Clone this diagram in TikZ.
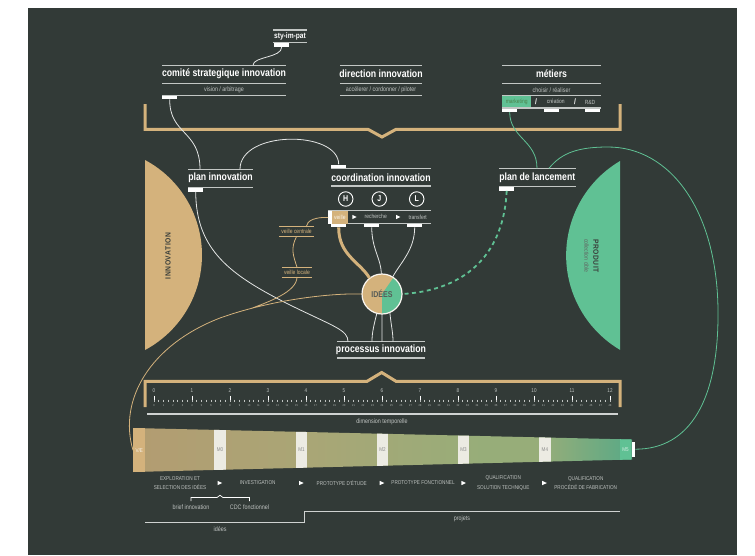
\documentclass[tikz,border=0pt]{standalone}
\usepackage{fontspec}
\setmainfont{Liberation Sans}[FakeStretch=0.83]
\newfontfamily\widefont{Liberation Sans}[FakeStretch=0.9,LetterSpace=8]
\usetikzlibrary{positioning}

\definecolor{bgdark}{HTML}{323A37}
\definecolor{innotan}{HTML}{D4B27C}
\definecolor{prodgreen}{HTML}{60C194}
\definecolor{rulegrey}{HTML}{C3C7C5}
\definecolor{linkwhite}{HTML}{E4E6E5}
\definecolor{labelgrey}{HTML}{BFC3C1}
\definecolor{inkdark}{HTML}{3A3F3B}
\definecolor{milestone}{HTML}{ECEBE3}
\definecolor{bandtan}{HTML}{B39C71}
\definecolor{bandolive}{HTML}{A9A676}
\definecolor{bandsage}{HTML}{97AD79}
\definecolor{bandteal}{HTML}{58A986}

\pgfdeclarehorizontalshading{timeband}{100bp}{color(0bp)=(bandtan); color(25bp)=(bandtan); color(43bp)=(bandolive); color(60bp)=(bandsage); color(66bp)=(bandsage); color(75bp)=(bandteal); color(100bp)=(bandteal)}

\begin{document}
\begin{tikzpicture}[x=1pt,y=-1pt,
  heading/.style={inner sep=0pt,text=white,font=\bfseries\fontsize{10.5}{12}\selectfont},
  subtext/.style={inner sep=0pt,text=labelgrey,font=\fontsize{6.5}{7}\selectfont},
  stage/.style={inner sep=0pt,text=labelgrey,align=center,font=\fontsize{5.6}{9.7}\selectfont},
  rule/.style={draw=rulegrey,line width=1.1pt},
  port/.style={fill=white,inner sep=0pt,minimum width=15pt,minimum height=3.4pt,anchor=north west},
  link/.style={draw=linkwhite,line width=0.8pt},
  greenlink/.style={draw=prodgreen,line width=0.8pt},
  tanlink/.style={draw=innotan,line width=0.8pt},
  bracket/.style={draw=innotan,line width=3pt},
  letter/.style={circle,draw=white,line width=0.9pt,minimum size=14.5pt,inner sep=0pt,text=white,font=\bfseries\fontsize{8.5}{9}\selectfont},
  tanlabel/.style={inner xsep=2pt,inner ysep=0pt,minimum height=9.5pt,text=innotan,font=\fontsize{6}{7}\selectfont},
  mbox/.style={inner sep=0pt,text=black!45,font=\fontsize{5.5}{6}\selectfont},
  tick/.style={draw=white,line width=0.8pt},
]

\fill[white] (0,0) rectangle (755,555);
\fill[bgdark] (28,8) rectangle (737,555);
\useasboundingbox (0,0) rectangle (755,555);

\fill[innotan] (145,160) arc[start angle=-61.9,end angle=61.9,radius=107.7] -- cycle;
\fill[prodgreen] (620,161) arc[start angle=239.4,end angle=120.6,radius=109.7] -- cycle;
\node[rotate=90,inner sep=0pt,text=inkdark,font=\widefont\bfseries\fontsize{7.5}{8}\selectfont] (inno) at (168,256) {INNOVATION};
\node[rotate=-90,inner sep=0pt,text=inkdark,font=\widefont\bfseries\fontsize{7.5}{8}\selectfont] (prod) at (596,256) {PRODUIT};
\node[rotate=-90,inner sep=0pt,text=inkdark!80,font=\fontsize{6.2}{7}\selectfont] (prod-sub) at (586.5,256) {collection cible};

\path[bracket]
    (145,104) -- (145,129.3) -- (368,129.3) -- (382,137) -- (396,129.3) -- (620,129.3) -- (620,104)
    (145,407) -- (145,381.3) -- (367,381.3) -- (381.7,372.5) -- (396,381.3) -- (620,381.3) -- (620,407)
;

\node[heading,font=\bfseries\fontsize{8}{9}\selectfont] (sty) at (290,36.8) {sty-im-pat};
\draw[rule] (273,30) -- (307,30) (273,42.7) -- (307,42.7);
\node[port] (sty-port) at (274,43.2) {};

\node[heading] (csi) at (224,74) {comité strategique innovation};
\node[subtext] (csi-sub) at (224,89.7) {vision / arbitrage};
\draw[rule] (162,65.3) -- (286,65.3) (162,83.3) -- (286,83.3) (162,95.3) -- (286,95.3);
\node[port] (csi-port) at (162,95.6) {};
\coordinate (csi-in) at (253,65.3);

\node[heading] (dir) at (381,74) {direction innovation};
\node[subtext] (dir-sub) at (381,89.7) {accélerer / cordonner / piloter};
\draw[rule] (340,65.3) -- (422,65.3) (340,83.3) -- (422,83.3) (340,95.3) -- (422,95.3);

\node[heading] (met) at (551.5,74) {métiers};
\node[subtext] (met-sub) at (551.5,89.7) {choisir / réaliser};
\node[fill=prodgreen,inner sep=0pt,minimum width=29pt,minimum height=12pt,anchor=north west,
      text=green!30!black!70,font=\fontsize{6}{7}\selectfont] (mkt) at (502,96) {marketing};
\node[inner sep=0pt,text=white,font=\bfseries\fontsize{8}{9}\selectfont] (slash1) at (536,102) {/};
\node[subtext,font=\fontsize{6}{7}\selectfont] (crea) at (555.7,101.5) {création};
\node[inner sep=0pt,text=white,font=\bfseries\fontsize{8}{9}\selectfont] (slash2) at (575,102) {/};
\node[subtext,font=\fontsize{6}{7}\selectfont] (rd) at (590,102) {R\&D};
\draw[rule] (502,65.7) -- (601,65.7) (502,83.3) -- (601,83.3) (502,95.3) -- (601,95.3) (502,108) -- (601,108);
\node[port] (mkt-port) at (502,108.3) {};
\node[port] (crea-port) at (544,108.3) {};
\node[port] (rd-port) at (585,108.3) {};

\node[heading] (pi) at (220.5,177.8) {plan innovation};
\draw[rule] (188,169.3) -- (253,169.3) (188,187.7) -- (253,187.7);
\node[port] (pi-port) at (188,188) {};
\coordinate (pi-in) at (200,169.3);
\coordinate (pi-out) at (240,169.3);

\node[port] (ci-port) at (331,164.3) {};
\node[heading] (ci) at (381,177.5) {coordination innovation};
\draw[rule] (331,168.3) -- (431,168.3) (331,186) -- (431,186) (328,210.7) -- (431,210.7) (331,223.3) -- (431,223.3);
\node[letter] (h) at (345.7,199) {H};
\node[letter] (j) at (379.3,199) {J};
\node[letter] (l) at (416.7,199) {L};
\node[fill=white,inner sep=0pt,minimum width=3.2pt,minimum height=12.4pt,anchor=north west] (veille-lport) at (328.2,211) {};
\node[fill=innotan,inner sep=0pt,minimum width=16.5pt,minimum height=12.3pt,anchor=north west,
      text=white!85!innotan,font=\fontsize{6}{7}\selectfont] (veille) at (331.4,211) {veille};
\node[subtext,font=\fontsize{6}{7}\selectfont] (rech) at (375.7,216.3) {recherche};
\node[subtext,font=\fontsize{6}{7}\selectfont] (tran) at (417.7,217) {transfert};
\fill[white] (352.3,214.8) -- (356.6,217) -- (352.3,219.2) -- cycle;
\fill[white] (396,214.8) -- (400.3,217) -- (396,219.2) -- cycle;
\node[port] (veille-port) at (331,223.6) {};
\node[port] (rech-port) at (364,223.6) {};
\node[port] (tran-port) at (407,223.6) {};

\node[heading] (pl) at (537.3,177.3) {plan de lancement};
\draw[rule] (499,168.3) -- (576,168.3) (499,186.7) -- (576,186.7);
\node[port] (pl-port) at (499,187) {};
\coordinate (pl-in) at (537,168.3);
\coordinate (pl-out) at (549,168.3);

\node[heading] (pr) at (381,350) {processus innovation};
\draw[rule] (337,341.7) -- (425,341.7) (337,358) -- (425,358);
\coordinate (pr-a) at (372,341.7);
\coordinate (pr-b) at (382,341.7);
\coordinate (pr-c) at (393,341.7);
\coordinate (pr-in) at (348,341.7);

\node[tanlabel] (vc) at (296.5,231.6) {veille centrale};
\node[tanlabel] (vl) at (297,272) {veille locale};
\draw[innotan,line width=0.9pt] (vc.north west) -- (vc.north east) (vc.south west) -- (vc.south east)
    (vl.north west) -- (vl.north east) (vl.south west) -- (vl.south east);
\coordinate (vc-in) at (306,227);
\coordinate (merge) at (251,308.5);

\shade[shading=timeband] (133,428) -- (632,439.5) -- (632,459.5) -- (133,472) -- cycle;
\begin{scope}
\clip (133,428) -- (632,439.5) -- (632,459.5) -- (133,472) -- cycle;
\foreach \x in {220,301.5,382.5,463.5,544.9}
    \fill[milestone] (\x-5.8,420) rectangle (\x+5.8,480);
\fill[prodgreen] (620,420) rectangle (631,480);
\end{scope}
\node[fill=innotan,inner sep=0pt,minimum width=12pt,minimum height=44pt,anchor=north west,
      text=white!85!innotan,font=\fontsize{5.5}{6}\selectfont] (ve) at (133,428) {V/E};
\foreach \x [count=\i from 0] in {220,301.5,382.5,463.5,544.9}
    \node[mbox] (m\i) at (\x,450) {M\i};
\node[mbox,text=white!75!prodgreen] (m5) at (625.5,449.5) {M5};
\node[fill=white,inner sep=0pt,minimum width=3.4pt,minimum height=15pt,anchor=west] (m5-tab) at (631.5,449.2) {};

\foreach \k in {0,...,12} {
    \node[inner sep=0pt,text=labelgrey,font=\fontsize{5.5}{6}\selectfont] (maj\k) at (154+38*\k,390.7) {\k};
    \draw[tick] (154+38*\k,395.5) -- ++(0,6);
}
\foreach \j in {0,...,96}
    \draw[draw=labelgrey,line width=0.6pt] (154+4.75*\j,399.5) -- ++(0,2);
\foreach \j in {0,...,48}
    \node[inner sep=0pt,text=labelgrey,font=\fontsize{2.8}{3}\selectfont] (min\j) at (154+9.5*\j,405.6) {\j};
\draw[draw=rulegrey!80,line width=1.3pt] (147,414) -- (618,414);
\node[subtext] (dimt) at (382,421.7) {dimension temporelle};

\node[stage] (st0) at (180,483) {EXPLORATION ET\\SELECTION DES IDÉES};
\node[stage] (st1) at (257.7,483) {INVESTIGATION};
\node[stage] (st2) at (341.7,483) {PROTOTYPE D'ÉTUDE};
\node[stage] (st3) at (423,483) {PROTOTYPE FONCTIONNEL};
\node[stage] (st4) at (503.3,483) {QUALIFICATION\\SOLUTION TECHNIQUE};
\node[stage] (st5) at (585.7,483) {QUALIFICATION\\PROCÉDÉ DE FABRICATION};
\foreach \x in {219.5,301,381.7,463.3,544.2}
    \fill[white] (\x-2,480.8) -- (\x+2.6,483) -- (\x-2,485.2) -- cycle;

\draw[draw=white,line width=0.7pt] (191,501) -- (191,497.5) -- (217,497.5) -- (220,495.3) -- (223,497.5) -- (249.5,497.5) -- (249.5,501);
\node[subtext] (brief) at (191,507) {brief innovation};
\node[subtext] (cdc) at (249.5,507) {CDC fonctionnel};

\draw[draw=rulegrey!80,line width=1.3pt] (145,522.3) -- (304.3,522.3) -- (304.3,511.7) -- (620,511.7);
\node[subtext] (idees-lab) at (220,529) {idées};
\node[subtext] (projets) at (462,519) {projets};

\node[circle,fill=innotan,minimum size=40pt,inner sep=0pt] (idees) at (382,294) {};
\fill[prodgreen] (idees.center) -- (idees.55) arc[start angle=-55,end angle=90,radius=20] -- cycle;
\draw[draw=white!90!innotan,line width=1.2pt] (idees.center) circle[radius=20];
\node[inner sep=0pt,text=inkdark!85,font=\bfseries\fontsize{8.5}{9}\selectfont] (idees-txt) at (382,294) {IDÉES};

\path [link]
    (sty-port.south) .. controls +(0,11) and +(0,-9) .. (csi-in)
    (csi-port.south) .. controls (169.5,135) and (200,130) .. (pi-in)
    (pi-out) .. controls (240,130) and (338.5,130) .. (ci-port.north)
    (pi-port.south) .. controls (196,250) and (230,275) .. (290,305) .. controls (335,327) and (348,330) .. (pr-in)
    (rech-port.south) .. controls (372,250) and (381,258) .. (idees.92)
    (tran-port.south) .. controls (414.5,250) and (401,262) .. (idees.58)
    (idees.-105) .. controls (374,325) and (372,332) .. (pr-a)
    (idees.-90) -- (pr-b)
    (idees.-67) .. controls (391,325) and (393,332) .. (pr-c)
;
\draw[innotan,line width=3pt] (veille-port.south) .. controls (338.5,255) and (360,262) .. (idees.128);
\path [tanlink]
    (veille-lport.west) .. controls (316,217) and (307,220) .. (vc-in)
    (vc.south) .. controls +(-6,12) and +(-4,-12) .. (vl.north)
    (vl.south) .. controls +(0,15) and (268,302) .. (merge)
    (idees.west) .. controls (330,293) and (270,300) .. (220,318) .. controls (150,345) and (118,400) .. (ve.west)
;
\path [greenlink]
    (mkt-port.south) .. controls +(0,26) and +(0,-28) .. (pl-in)
    (pl-out) .. controls (562,152) and (580,147) .. (608,147) .. controls (670,147) and (717,210) .. (718,310)
        .. controls (719,400) and (690,449.2) .. (m5-tab.east)
;
\draw[prodgreen,line width=1.8pt,dash pattern=on 4pt off 3.5pt] (pl-port.south) .. controls (504,250) and (470,290) .. (idees.east);

\end{tikzpicture}
\end{document}
